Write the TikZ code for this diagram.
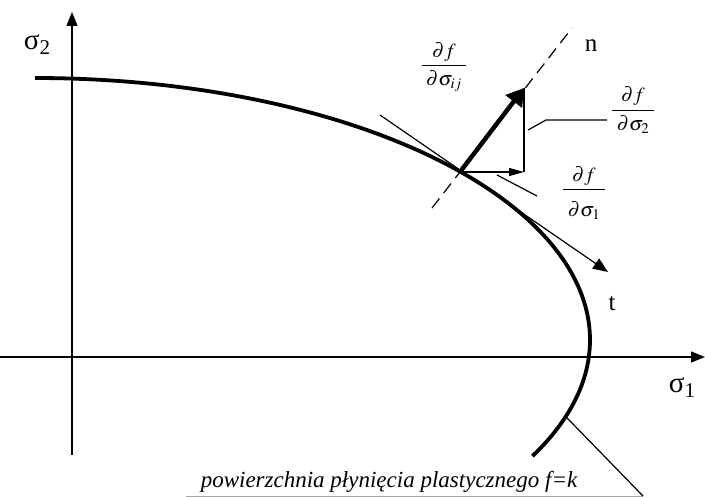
\documentclass[tikz,border=0pt]{standalone}
\usepackage{amsmath}
\usepackage{mathptmx}
\usepackage{fontspec}
\setmainfont{Liberation Serif}
\usetikzlibrary{positioning, arrows.meta}

\newcommand{\sigsub}[1]{{\fontsize{29}{32}\selectfont σ}\raisebox{-5pt}{\fontsize{21}{24}\selectfont #1}}
\newcommand{\pfrac}[2]{$\dfrac{\partial f\rule[-3pt]{0pt}{0pt}}{\rule{0pt}{#2}\;\partial \sigma_{#1}\;}$}

\begin{document}
\begin{tikzpicture}[x=1pt, y=-1pt,
  axis/.style={line width=1.3pt, -{Triangle[length=14pt, width=11pt]}},
  yieldcurve/.style={line width=3.8pt},
  thinline/.style={line width=1.2pt},
  gradvec/.style={line width=4.5pt, -{Triangle[length=17pt, width=20pt]}},
  compvec/.style={line width=1.3pt, -{Triangle[length=15pt, width=8pt]}},
  lbl/.style={font=\fontsize{25}{28}\selectfont, inner sep=1pt},
  fraclbl/.style={font=\fontsize{20}{24}\selectfont, inner sep=1pt}]

\useasboundingbox (0,0) rectangle (705,497);

\draw[axis] (0,357) -- (705,357);
\draw[axis] (72,455) -- (72,12);
\node[inner sep=0pt] (s1) at (682,388) {\sigsub{1}};
\node[inner sep=0pt] (s2) at (37,45) {\sigsub{2}};

\draw[yieldcurve] plot[domain=90:-26.3, samples=120]
  ({35+555*cos(\x)}, {340-262*sin(\x)});

\coordinate (P) at (460,172);
\coordinate (tanA) at (380,115);
\coordinate (tanB) at (608,272);
\coordinate (nA) at (432,208);
\coordinate (nB) at (572,28);
\coordinate (G) at (524,88);
\coordinate (H) at (524,172);

\draw[thinline, -{Triangle[length=15pt, width=12pt]}] (tanA) -- (tanB);
\draw[thinline, dashed, dash pattern=on 12pt off 7pt] (nA) -- (nB);
\draw[compvec] (P) -- (H);
\draw[thinline] (H) -- (G);
\draw[gradvec] (P) -- (G);

\node[lbl] (n) at (591,46) {n};
\node[lbl] (t) at (612,304) {t};

\node[fraclbl] (dfij) at (444,67) {\pfrac{ij}{17pt}};
\node[fraclbl] (df2) at (633,110) {\pfrac{2}{17pt}};
\node[fraclbl] (df1) at (584,193) {\pfrac{1}{24pt}};

\draw[thinline] (528,130) -- (546,120) -- (607,120);
\draw[thinline] (497,175) -- (537,196);

\node[font=\fontsize{23}{26}\selectfont\itshape, anchor=base] (surf) at (389,487)
  {powierzchnia płynięcia plastycznego f=k};
\coordinate (onK) at ({35+555*cos(-17)}, {340-262*sin(-17)});
\coordinate (ulA) at (186,496);
\coordinate (ulB) at (643,496);
\draw[gray!70, line width=0.8pt] (ulA) -- (ulB);
\draw[thinline] (onK) -- (ulB);

\end{tikzpicture}
\end{document}
